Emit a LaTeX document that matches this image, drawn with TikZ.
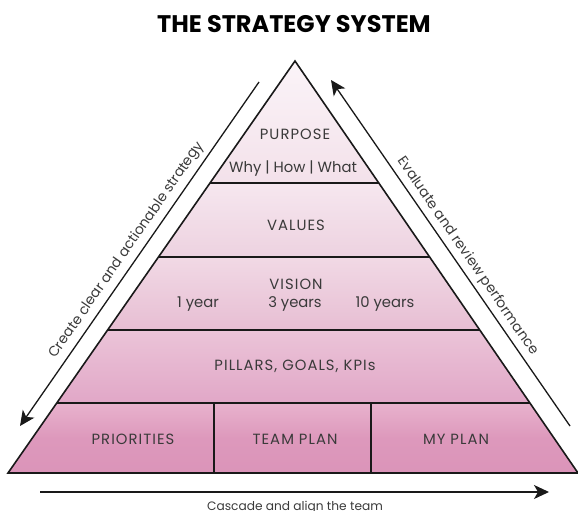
\documentclass[tikz,border=0pt]{standalone}
\usepackage{fontspec}
\setmainfont{Poppins}
\newfontfamily\capsfont{Poppins}[LetterSpace=7]
\usetikzlibrary{calc,arrows.meta}
\definecolor{txt}{HTML}{3A3A3A}
\definecolor{p1t}{HTML}{FBF4F8}\definecolor{p1b}{HTML}{F3E1EA}
\definecolor{p2t}{HTML}{F6E7EF}\definecolor{p2b}{HTML}{EDD2E0}
\definecolor{p3t}{HTML}{F1D9E5}\definecolor{p3b}{HTML}{E7BED3}
\definecolor{p4t}{HTML}{EBC4D8}\definecolor{p4b}{HTML}{E1A7C7}
\definecolor{p5t}{HTML}{E8B2CD}\definecolor{p5b}{HTML}{DB94B9}
\begin{document}
\begin{tikzpicture}[x=1pt,y=-1pt,
  lbl/.style={font=\capsfont\fontsize{14.8}{16}\selectfont, text=txt, inner sep=0pt},
  sub/.style={font=\fontsize{14.8}{16}\selectfont, text=txt, inner sep=0pt},
  edgeline/.style={line width=1.6pt, draw=black!90},
  flow/.style={line width=1.3pt, draw=black!90, -{Stealth[length=15pt,width=14pt,inset=4pt]}},
  side/.style={font=\fontsize{14}{16}\selectfont, text=txt, sloped, above=5pt, inner sep=0pt}]
\useasboundingbox (0,0) rectangle (578,511);
\coordinate (A) at (295,61);
\coordinate (BL) at (8,473);
\coordinate (BR) at (578,473);
\foreach \n/\t in {1/0.2961,2/0.4757,3/0.6529,4/0.8301} {
  \coordinate (L\n) at ($(A)!\t!(BL)$);
  \coordinate (R\n) at ($(A)!\t!(BR)$);
}
% bands
\shade[top color=p1t, bottom color=p1b] (A) -- (R1) -- (L1) -- cycle;
\shade[top color=p2t, bottom color=p2b] (L1) -- (R1) -- (R2) -- (L2) -- cycle;
\shade[top color=p3t, bottom color=p3b] (L2) -- (R2) -- (R3) -- (L3) -- cycle;
\shade[top color=p4t, bottom color=p4b] (L3) -- (R3) -- (R4) -- (L4) -- cycle;
\shade[top color=p5t, bottom color=p5b, middle color=p5b!85!p5t] (L4) -- (R4) -- (BR) -- (BL) -- cycle;
% band lines
\foreach \n in {1,2,3,4} { \draw[edgeline] (L\n) -- (R\n); }
\coordinate (D1t) at (214,403); \coordinate (D1b) at (214,473);
\coordinate (D2t) at (371,403); \coordinate (D2b) at (371,473);
\draw[edgeline] (D1t) -- (D1b);
\draw[edgeline] (D2t) -- (D2b);
\draw[edgeline, line join=miter] (A) -- (BR) -- (BL) -- cycle;
% labels
\node[lbl] (purpose) at (295,134) {PURPOSE};
\node[sub] (why) at (293,169) {Why | How | What};
\node[lbl] (values) at (296,225) {VALUES};
\node[lbl] (vision) at (296,284) {VISION};
\node[sub] (y1) at (198,304) {1 year};
\node[sub] (y3) at (295,304) {3 years};
\node[sub] (y10) at (385,304) {10 years};
\node[lbl] (pillars) at (295,366) {PILLARS, GOALS, KPIs};
\node[lbl] (prio) at (133,439) {PRIORITIES};
\node[lbl] (team) at (295,439) {TEAM PLAN};
\node[lbl] (my) at (456,439) {MY PLAN};
% title
\node[font=\bfseries\fontsize{24}{28}\selectfont, anchor=base, inner sep=0pt] (title) at (294,33) {THE STRATEGY SYSTEM};
% side arrows
\coordinate (la1) at (259,82); \coordinate (la2) at (20,426);
\coordinate (ra1) at (570,426); \coordinate (ra2) at (331,80);
\draw[flow] (la1) -- (la2);
\draw[flow] (ra1) -- (ra2);
\path (la2) -- (la1) node[side, pos=0.49] (create) {Create clear and actionable strategy};
\path (ra2) -- (ra1) node[side, pos=0.53] (evaluate) {Evaluate and review performance};
% bottom arrow
\coordinate (ba1) at (40,492); \coordinate (ba2) at (549,492);
\draw[flow] (ba1) -- (ba2);
\node[font=\fontsize{12.2}{14}\selectfont, text=txt, inner sep=0pt, anchor=base] (cascade) at (295,510.5) {Cascade and align the team};
\end{tikzpicture}
\end{document}
